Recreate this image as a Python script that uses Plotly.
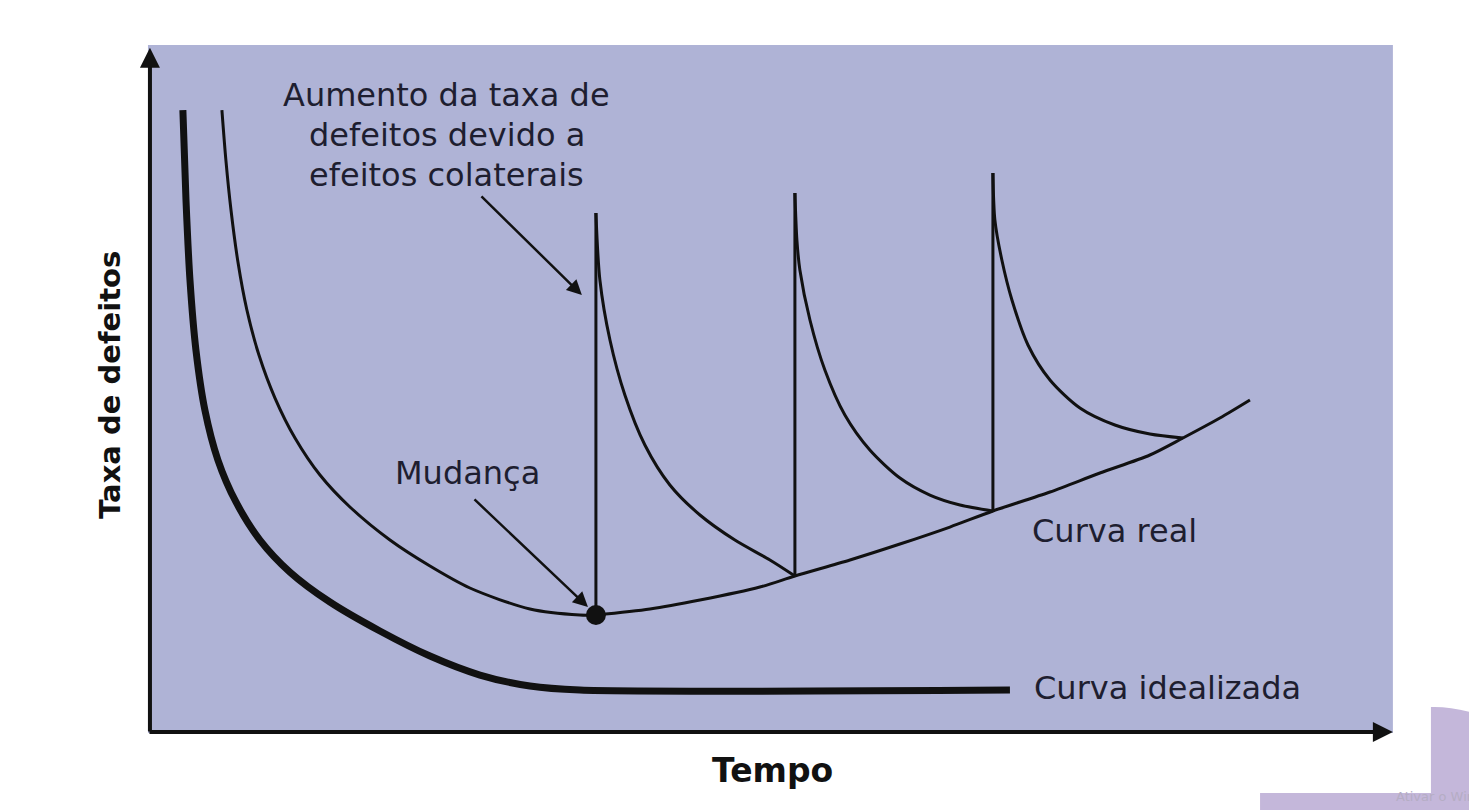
import plotly.graph_objects as go

# ---- data (chart units: time 0..100, defect rate 0..100) ----
ideal_x = [2.65, 2.90, 3.22, 3.70, 4.42, 5.47, 6.92, 8.85, 11.26, 14.48, 18.50, 22.53, 26.55, 30.57, 34.59, 69.19]
ideal_y = [90.55, 77.47, 65.84, 55.67, 46.95, 39.68, 33.58, 28.05, 23.40, 19.04, 14.83, 11.19, 8.43, 6.83, 6.25, 6.25]

real_down_x = [5.79, 6.11, 6.52, 7.08, 7.80, 8.77, 10.06, 11.67, 13.68, 16.09, 19.31, 22.53, 25.74, 30.57, 34.59, 35.88]
real_down_y = [90.55, 83.28, 76.02, 68.46, 61.48, 54.94, 48.69, 42.88, 37.50, 32.85, 28.05, 24.27, 21.08, 18.02, 17.15, 17.15]

real_up_x = [35.88, 40.23, 44.25, 49.07, 51.89, 56.32, 60.34, 64.36, 67.82, 72.41, 76.43, 80.45, 83.11, 86.08, 88.50]
real_up_y = [17.15, 18.02, 19.33, 21.22, 22.82, 25.15, 27.47, 29.94, 32.27, 35.03, 37.79, 40.41, 42.88, 45.78, 48.40]

spike1_x = [35.88, 35.88, 36.20, 37.01, 38.21, 39.82, 41.83, 44.25, 47.06, 49.88, 51.89]
spike1_y = [17.15, 75.58, 65.84, 57.12, 49.13, 41.86, 36.05, 31.69, 28.05, 25.15, 22.82]

spike2_x = [51.89, 51.89, 52.05, 52.29, 53.10, 54.30, 55.91, 57.92, 60.34, 62.75, 65.17, 67.82]
spike2_y = [22.82, 78.49, 71.66, 67.30, 60.03, 52.76, 46.22, 41.13, 37.06, 34.59, 33.14, 32.27]

spike3_x = [67.82, 67.82, 67.98, 68.54, 69.35, 70.64, 72.41, 74.82, 77.63, 80.45, 83.11]
spike3_y = [32.27, 81.40, 74.56, 68.75, 62.94, 56.40, 51.31, 47.24, 44.77, 43.46, 42.88]

change_x = [35.88]
change_y = [17.15]

x_title = "Tempo"
y_title = "Taxa de defeitos"
note_lines = ["Aumento da taxa de", "defeitos devido a", "efeitos colaterais"]
label_change = "Mudança"
label_real = "Curva real"
label_ideal = "Curva idealizada"
watermark = "Ativar o Win"

BG = "#AFB3D6"
INK = "#111111"
TXT = "#1E1E30"
FONT = "DejaVu Sans"
DECO = "#C4B7DA"

fig = go.Figure()

# lavender panel
fig.add_shape(type="rect", x0=-0.16, x1=100, y0=0, y1=100, fillcolor=BG, line=dict(width=0), layer="below")

def line(x, y, w):
    fig.add_trace(go.Scatter(x=x, y=y, mode="lines", line=dict(color=INK, width=w, shape="spline", smoothing=0.8),
                             hoverinfo="skip", showlegend=False))

def poly(x, y, w):
    fig.add_trace(go.Scatter(x=x, y=y, mode="lines", line=dict(color=INK, width=w),
                             hoverinfo="skip", showlegend=False))

line(ideal_x, ideal_y, 7)
line(real_down_x, real_down_y, 3)
line(real_up_x, real_up_y, 3)
poly(spike1_x[:2], spike1_y[:2], 3)
line(spike1_x[1:], spike1_y[1:], 3)
poly(spike2_x[:2], spike2_y[:2], 3)
line(spike2_x[1:], spike2_y[1:], 3)
poly(spike3_x[:2], spike3_y[:2], 3)
line(spike3_x[1:], spike3_y[1:], 3)

fig.add_trace(go.Scatter(x=change_x, y=change_y, mode="markers",
                         marker=dict(color=INK, size=20), hoverinfo="skip", showlegend=False))

ann = []
# axes with arrows
ann.append(dict(x=0, y=99.6, ax=0, ay=0, xref="x", yref="y", axref="x", ayref="y", text="",
                showarrow=True, arrowhead=2, arrowsize=1.0, arrowwidth=4, arrowcolor=INK))
ann.append(dict(x=100, y=0.15, ax=-0.16, ay=0.15, xref="x", yref="y", axref="x", ayref="y", text="",
                showarrow=True, arrowhead=2, arrowsize=1.0, arrowwidth=4, arrowcolor=INK))
# pointer arrows
ann.append(dict(x=34.75, y=63.66, ax=26.55, ay=78.20, xref="x", yref="y", axref="x", ayref="y", text="",
                showarrow=True, arrowhead=2, arrowsize=1.2, arrowwidth=2.5, arrowcolor=INK))
ann.append(dict(x=35.24, y=18.31, ax=25.99, ay=34.16, xref="x", yref="y", axref="x", ayref="y", text="",
                showarrow=True, arrowhead=2, arrowsize=1.2, arrowwidth=2.5, arrowcolor=INK))

txt_font = dict(family=FONT, size=32, color=TXT)
for t, yy in zip(note_lines, [92.73, 86.92, 81.10]):
    ann.append(dict(x=23.89, y=yy, xref="x", yref="y", text=t, showarrow=False, font=txt_font,
                    xanchor="center", yanchor="middle"))
ann.append(dict(x=25.58, y=37.79, xref="x", yref="y", text=label_change, showarrow=False, font=txt_font,
                xanchor="center", yanchor="middle"))
ann.append(dict(x=70.80, y=29.36, xref="x", yref="y", text=label_real, showarrow=False, font=txt_font,
                xanchor="left", yanchor="middle"))
ann.append(dict(x=70.96, y=6.54, xref="x", yref="y", text=label_ideal, showarrow=False, font=txt_font,
                xanchor="left", yanchor="middle"))
ann.append(dict(x=50.12, y=-5.38, xref="x", yref="y", text="<b>" + x_title + "</b>", showarrow=False,
                font=dict(family=FONT, size=33, color=INK), xanchor="center", yanchor="middle"))
ann.append(dict(x=-3.22, y=50.58, xref="x", yref="y", text="<b>" + y_title + "</b>", showarrow=False,
                textangle=-90, font=dict(family=FONT, size=29, color=INK), xanchor="center", yanchor="middle"))
# slide watermark
ann.append(dict(x=0.9946, y=0.026, xref="paper", yref="paper", text=watermark, showarrow=False,
                font=dict(family=FONT, size=13, color="#B5ADC4"), xanchor="right", yanchor="middle"))

# slide decoration (bottom right purple shape)
fig.add_shape(type="path", xref="paper", yref="paper",
              path="M 0.9634 0 L 0.9634 0.137 Q 0.98 0.138 1 0.125 L 1 0 Z",
              fillcolor=DECO, line=dict(width=0), layer="below")
fig.add_shape(type="rect", xref="paper", yref="paper", x0=0.8477, x1=1, y0=0, y1=0.031,
              fillcolor=DECO, line=dict(width=0), layer="below")

fig.update_layout(
    width=1477, height=810,
    margin=dict(l=0, r=0, t=0, b=0),
    paper_bgcolor="white", plot_bgcolor="white",
    xaxis=dict(range=[-11.42, 107.41], visible=False, fixedrange=True),
    yaxis=dict(range=[-12.35, 105.38], visible=False, fixedrange=True),
    annotations=ann,
    showlegend=False,
)

fig.write_html("out.html")
